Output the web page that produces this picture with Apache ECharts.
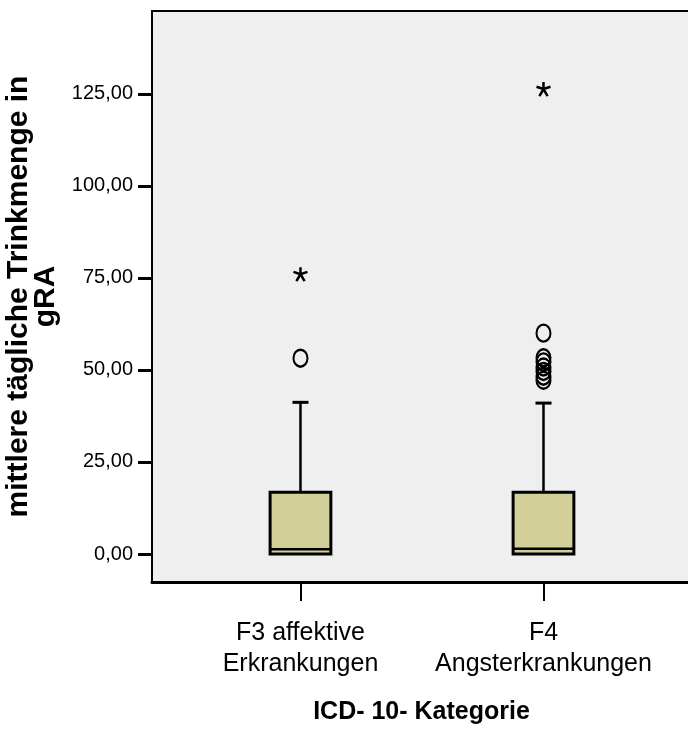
<!DOCTYPE html>
<html>
<head>
<meta charset="utf-8">
<script src="https://cdn.jsdelivr.net/npm/echarts@6/dist/echarts.min.js"></script>
<style>
  html, body { margin: 0; padding: 0; background: #fff; }
  #chart { width: 688px; height: 735px; }
</style>
</head>
<body>
<div id="chart"></div>
<script>
// ICD-10 groups
const categories = ['F3 affektive\nErkrankungen', 'F4\nAngsterkrankungen'];

// box statistics per group
const whiskerLow = [0, 0];
const q1 = [0, 0];
const median = [1.3, 1.4];
const q3 = [16.8, 16.8];
const whiskerHigh = [41.2, 41.0];

// outliers (circles) and extremes (stars)
const outliersF3 = [53.2];
const outliersF4 = [60.0, 53.3, 52.2, 50.8, 49.6, 48.3, 47.2];
const extremesF3 = [76.0];
const extremesF4 = [126.3];

const yTicks = [0, 25, 50, 75, 100, 125];

const sans = "'Liberation Sans', Arial, sans-serif";

const boxData = categories.map((c, i) => [i, whiskerLow[i], q1[i], median[i], q3[i], whiskerHigh[i]]);
const outlierData = [
    ...outliersF3.map(v => [0, v]),
    ...outliersF4.map(v => [1, v])
];
const extremeData = [
    ...extremesF3.map(v => [0, v]),
    ...extremesF4.map(v => [1, v])
];

function renderBox(params, api) {
    const x = api.value(0);
    const lo = api.coord([x, api.value(1)]);
    const b1 = api.coord([x, api.value(2)]);
    const med = api.coord([x, api.value(3)]);
    const b3 = api.coord([x, api.value(4)]);
    const hi = api.coord([x, api.value(5)]);
    const boxW = api.size([0.25, 0])[0];
    const capW = api.size([0.066, 0])[0];
    const cx = lo[0];
    return {
        type: 'group',
        children: [
            { type: 'line', shape: { x1: cx, y1: b3[1], x2: cx, y2: hi[1] }, style: { stroke: '#000', lineWidth: 2.5 } },
            { type: 'line', shape: { x1: cx - capW / 2, y1: hi[1], x2: cx + capW / 2, y2: hi[1] }, style: { stroke: '#000', lineWidth: 3 } },
            { type: 'line', shape: { x1: cx, y1: b1[1], x2: cx, y2: lo[1] }, style: { stroke: '#000', lineWidth: 2.5 } },
            { type: 'rect', shape: { x: cx - boxW / 2, y: b3[1], width: boxW, height: b1[1] - b3[1] }, style: { fill: '#d3cf99', stroke: '#000', lineWidth: 3 } },
            { type: 'line', shape: { x1: cx - boxW / 2, y1: med[1], x2: cx + boxW / 2, y2: med[1] }, style: { stroke: '#000', lineWidth: 2.5 } }
        ]
    };
}

const chart = echarts.init(document.getElementById('chart'));
chart.setOption({
    backgroundColor: '#fff',
    animation: false,
    grid: {
        left: 152, top: 11, right: -3, bottom: 153,
        containLabel: false,
        outerBoundsMode: 'none',
        show: true, backgroundColor: '#efefef', borderColor: '#000', borderWidth: 2
    },
    xAxis: {
        type: 'value',
        min: -0.611,
        max: 1.607,
        splitLine: { show: false },
        axisLine: { show: true, onZero: false, lineStyle: { color: '#000', width: 3 } },
        axisTick: { show: true, customValues: [0, 1], length: 19, lineStyle: { color: '#000', width: 2 } },
        axisLabel: {
            customValues: [0, 1],
            formatter: v => categories[Math.round(v)],
            margin: 36,
            fontFamily: sans,
            fontSize: 25,
            lineHeight: 31,
            color: '#000'
        },
        name: 'ICD- 10- Kategorie',
        nameLocation: 'middle',
        nameGap: 118,
        nameTextStyle: { fontFamily: sans, fontWeight: 'bold', fontSize: 25, color: '#000' }
    },
    yAxis: {
        type: 'value',
        min: -7.6,
        max: 147.5,
        splitLine: { show: false },
        axisLine: { show: true, onZero: false, lineStyle: { color: '#000', width: 2 } },
        axisTick: { show: true, customValues: yTicks, length: 14, lineStyle: { color: '#000', width: 3 } },
        axisLabel: {
            customValues: yTicks,
            formatter: v => v.toFixed(2).replace('.', ','),
            margin: 19,
            fontFamily: sans,
            fontSize: 20,
            color: '#000'
        },
        name: 'mittlere tägliche Trinkmenge in\ngRA',
        nameLocation: 'middle',
        nameGap: 85,
        nameTextStyle: { fontFamily: sans, fontWeight: 'bold', fontSize: 30, lineHeight: 27, color: '#000' }
    },
    series: [
        {
            type: 'custom',
            renderItem: renderBox,
            encode: { x: 0, y: [1, 2, 3, 4, 5] },
            data: boxData,
            z: 2
        },
        {
            type: 'scatter',
            data: outlierData,
            symbol: 'circle',
            symbolSize: [14, 17],
            itemStyle: { color: 'rgba(0,0,0,0)', borderColor: '#000', borderWidth: 2.2, opacity: 1 },
            z: 3
        },
        {
            type: 'scatter',
            data: extremeData,
            symbol: 'path://M6,0L6,6M6,6L0,4M6,6L12,4M6,6L2.5,12M6,6L9.5,12',
            symbolSize: 14,
            itemStyle: { color: 'rgba(0,0,0,0)', borderColor: '#000', borderWidth: 2.5, opacity: 1 },
            z: 3
        }
    ]
});
</script>
</body>
</html>
